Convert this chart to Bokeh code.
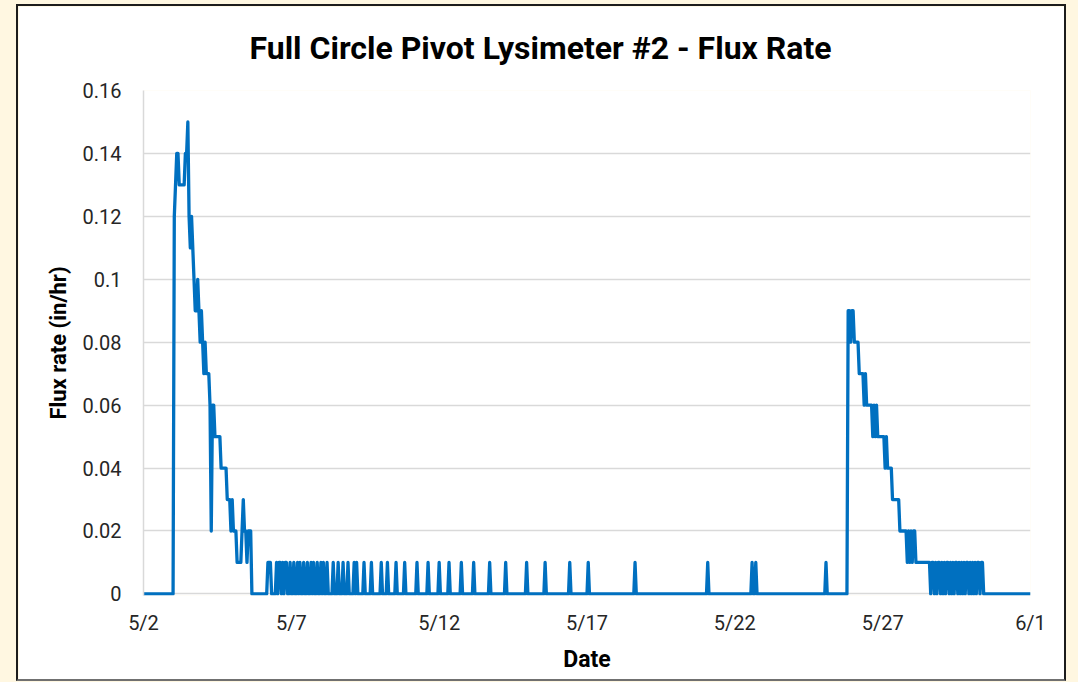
from bokeh.plotting import figure
from bokeh.models import FixedTicker, CustomJSTickFormatter, Title, ColumnDataSource, Range1d
from bokeh.embed import file_html
from bokeh.resources import INLINE

TITLE = "Full Circle Pivot Lysimeter #2 - Flux Rate"
X_LABEL = "Date"
Y_LABEL = "Flux rate (in/hr)"

# x axis: hours since 5/2 00:00
x_tick_hours = [0, 120, 240, 360, 480, 600, 720]
x_tick_labels = ["5/2", "5/7", "5/12", "5/17", "5/22", "5/27", "6/1"]
y_ticks = [0, 0.02, 0.04, 0.06, 0.08, 0.1, 0.12, 0.14, 0.16]
y_tick_labels = ["0", "0.02", "0.04", "0.06", "0.08", "0.1", "0.12", "0.14", "0.16"]

total_hours = 720

# First drainage event: hourly flux starting at hour 24 (5/3 00:00)
event1_start = 24
event1_flux = [0, 0.12, 0.13, 0.14, 0.14, 0.13, 0.13, 0.13, 0.13, 0.13,
               0.14, 0.14, 0.15, 0.12, 0.11, 0.12, 0.11, 0.10, 0.09, 0.09,
               0.10, 0.09, 0.08, 0.09, 0.08, 0.07, 0.08, 0.07, 0.07, 0.07,
               0.06, 0.02, 0.06, 0.06, 0.05, 0.05, 0.05, 0.05, 0.05, 0.04,
               0.04, 0.04, 0.04, 0.04, 0.03, 0.03, 0.03, 0.02, 0.03, 0.02,
               0.02, 0.02, 0.01, 0.01, 0.01, 0.01, 0.02, 0.03, 0.02, 0.02,
               0.01, 0.02, 0.02, 0.02, 0]

# Isolated hours at 0.01 in/hr between the two events
blip_hours = [101, 102, 103, 108, 110, 111, 113, 115, 116, 119, 122, 125, 127,
              130, 133, 136, 138, 141, 144, 146, 149, 154, 158, 162, 166, 171,
              173, 179, 185, 193, 198, 205, 212, 222, 231, 240, 248, 258, 268,
              281, 294, 311, 326, 346, 361, 399, 458, 494, 497, 554]
blip_flux = 0.01

# Second drainage event: hourly flux starting at hour 571
event2_start = 571
event2_flux = [0, 0.09, 0.09, 0.08, 0.09, 0.09, 0.08, 0.08, 0.08, 0.08,
               0.07, 0.07, 0.07, 0.07, 0.06, 0.07, 0.06, 0.06, 0.06, 0.06,
               0.06, 0.05, 0.06, 0.05, 0.06, 0.05, 0.05, 0.05, 0.05, 0.05,
               0.05, 0.04, 0.05, 0.04, 0.04, 0.04, 0.04, 0.03, 0.03, 0.03,
               0.03, 0.03, 0.03, 0.02, 0.02, 0.02, 0.02, 0.02, 0.02, 0.01,
               0.02, 0.01, 0.02, 0.01, 0.02, 0.02, 0.01, 0.01, 0.01, 0.01,
               0.01, 0.01, 0.01, 0.01, 0.01, 0.01, 0.01, 0.01,
               0, 0.01, 0.01, 0, 0.01, 0, 0.01, 0.01, 0, 0.01, 0, 0.01, 0,
               0.01, 0.01, 0, 0.01, 0, 0.01, 0, 0.01, 0.01, 0, 0.01, 0, 0.01,
               0, 0.01, 0, 0.01, 0.01, 0, 0.01, 0, 0.01, 0, 0.01, 0, 0.01,
               0.01, 0, 0.01, 0.01, 0]

hours = list(range(total_hours + 1))
flux = [0.0] * (total_hours + 1)
for i, v in enumerate(event1_flux):
    flux[event1_start + i] = v
for h in blip_hours:
    flux[h] = blip_flux
for i, v in enumerate(event2_flux):
    flux[event2_start + i] = v

source = ColumnDataSource(data=dict(hour=hours, flux=flux))

FONT = "Roboto"

p = figure(width=1050, height=677, output_backend="svg", toolbar_location=None,
           x_range=Range1d(0, total_hours), y_range=Range1d(-0.0005, 0.16),
           min_border_left=125, min_border_right=38, min_border_top=83,
           min_border_bottom=88)
p.background_fill_color = "white"
p.border_fill_color = "white"
p.outline_line_color = None
p.styles = {"border": "2px solid #1c1c1c", "border-bottom-color": "#707070"}

p.line("hour", "flux", source=source, line_color="#0070C0", line_width=3.3,
       line_join="round")

# title (left-aligned with an offset so that it sits centred on the chart area)
p.add_layout(Title(text=TITLE, align="left", offset=106, standoff=44,
                   vertical_align="top",
                   text_font=FONT, text_font_style="bold",
                   text_font_size="32px", text_color="black"), "above")

# grid
p.xgrid.grid_line_color = None
p.ygrid.grid_line_color = "#d9d9d9"
p.ygrid.grid_line_width = 1.5
p.ygrid.ticker = FixedTicker(ticks=y_ticks)

# y axis
p.yaxis.ticker = FixedTicker(ticks=y_ticks)
p.yaxis.formatter = CustomJSTickFormatter(
    args=dict(tick_vals=y_ticks, tick_texts=y_tick_labels),
    code="const i = tick_vals.indexOf(tick); return i >= 0 ? tick_texts[i] : '';")
p.yaxis.axis_line_color = "#d9d9d9"
p.yaxis.axis_line_width = 1.5
p.yaxis.major_tick_line_color = None
p.yaxis.minor_tick_line_color = None
p.yaxis.major_tick_out = 0
p.yaxis.major_tick_in = 0
p.yaxis.major_label_standoff = 22
p.yaxis.major_label_text_font = FONT
p.yaxis.major_label_text_font_size = "20px"
p.yaxis.major_label_text_color = "#262626"
p.yaxis.axis_label = Y_LABEL
p.yaxis.axis_label_text_font = FONT
p.yaxis.axis_label_text_font_style = "bold"
p.yaxis.axis_label_text_font_size = "22px"
p.yaxis.axis_label_text_color = "black"
p.yaxis.axis_label_standoff = 9

# x axis
p.xaxis.ticker = FixedTicker(ticks=x_tick_hours)
p.xaxis.formatter = CustomJSTickFormatter(
    args=dict(tick_vals=x_tick_hours, tick_texts=x_tick_labels),
    code="const i = tick_vals.indexOf(tick); return i >= 0 ? tick_texts[i] : '';")
p.xaxis.axis_line_color = None
p.xaxis.major_tick_line_color = None
p.xaxis.minor_tick_line_color = None
p.xaxis.major_tick_out = 0
p.xaxis.major_tick_in = 0
p.xaxis.major_label_standoff = 15
p.xaxis.major_label_text_font = FONT
p.xaxis.major_label_text_font_size = "20px"
p.xaxis.major_label_text_color = "#262626"
p.xaxis.axis_label = X_LABEL
p.xaxis.axis_label_text_font = FONT
p.xaxis.axis_label_text_font_style = "bold"
p.xaxis.axis_label_text_font_size = "23px"
p.xaxis.axis_label_text_color = "black"
p.xaxis.axis_label_standoff = 8

html = file_html(p, INLINE, title=TITLE)
page_css = ("<style>html, body { background: #FFF7E1 !important; overflow: hidden !important; }"
            " body { margin: 4px 0 0 16px !important; }</style>")
html = html.replace("</head>", page_css + "</head>", 1)
open("out.html", "w").write(html)
